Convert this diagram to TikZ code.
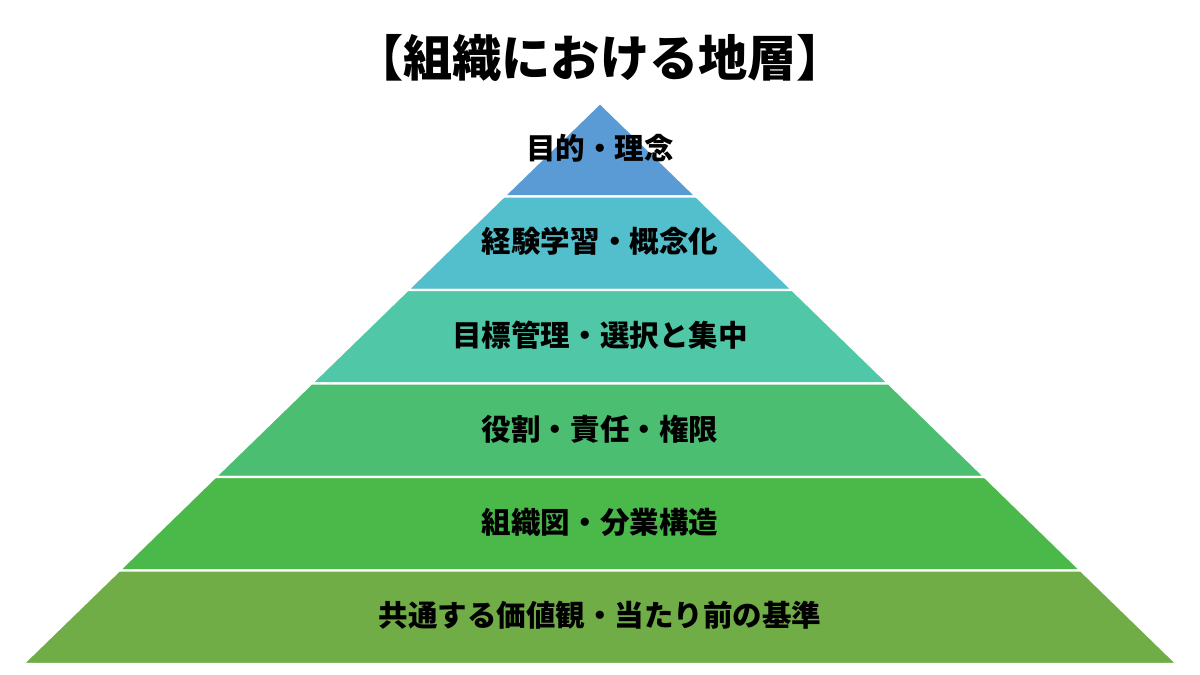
\documentclass[tikz,border=0pt]{standalone}
\usepackage{fontspec}
\setmainfont{Noto Sans CJK JP}
\usepackage{tikz}
\usetikzlibrary{calc}
\tikzstyle{layerone}=[fill={rgb,255:red,91;green,155;blue,213}]
\tikzstyle{layertwo}=[fill={rgb,255:red,83;green,191;blue,204}]
\tikzstyle{layerthree}=[fill={rgb,255:red,80;green,199;blue,167}]
\tikzstyle{layerfour}=[fill={rgb,255:red,76;green,190;blue,114}]
\tikzstyle{layerfive}=[fill={rgb,255:red,74;green,185;blue,74}]
\tikzstyle{layersix}=[fill={rgb,255:red,112;green,173;blue,71}]
\tikzstyle{sep}=[draw=white,line width=1.2pt]
\tikzstyle{label}=[font=\fontsize{16.8}{18}\selectfont\bfseries,text=black,inner sep=0pt]

\begin{document}
\begin{tikzpicture}[x=0.02cm,y=-0.02cm]
		\useasboundingbox (0,0) rectangle (1200,675);
		\fill[white] (0,0) rectangle (1200,675);
		% layers, top to bottom
		\filldraw[layerone,sep] (600,103) -- (696.2,196.5) -- (503.8,196.5) -- cycle;
		\filldraw[layertwo,sep] (503.8,196.5) -- (696.2,196.5) -- (792.3,290) -- (407.7,290) -- cycle;
		\filldraw[layerthree,sep] (407.7,290) -- (792.3,290) -- (888.5,383.5) -- (311.5,383.5) -- cycle;
		\filldraw[layerfour,sep] (311.5,383.5) -- (888.5,383.5) -- (984.7,477) -- (215.3,477) -- cycle;
		\filldraw[layerfive,sep] (215.3,477) -- (984.7,477) -- (1080.8,570.5) -- (119.2,570.5) -- cycle;
		\filldraw[layersix,sep] (119.2,570.5) -- (1080.8,570.5) -- (1177,664) -- (23,664) -- cycle;
		\node[font=\fontsize{28}{30}\selectfont\bfseries,inner sep=0pt] (title) at (600,58) {【組織における地層】};
		\node[label] (purpose) at (600,148) {目的・理念};
		\node[label] (learning) at (600,241) {経験学習・概念化};
		\node[label] (targets) at (600,335) {目標管理・選択と集中};
		\node[label] (roles) at (600,429) {役割・責任・権限};
		\node[label] (chart) at (600,522) {組織図・分業構造};
		\node[label] (values) at (600,615) {共通する価値観・当たり前の基準};
	\end{tikzpicture}
\end{document}
